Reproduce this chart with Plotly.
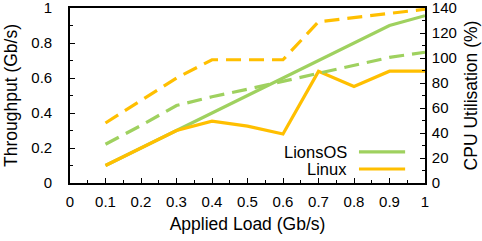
import plotly.graph_objects as go

load = [0.1, 0.2, 0.3, 0.4, 0.5, 0.6, 0.7, 0.8, 0.9, 1.0]
lions_tput = [0.1, 0.2, 0.3, 0.4, 0.5, 0.6, 0.7, 0.8, 0.9, 0.956]
linux_tput = [0.1, 0.2, 0.3, 0.353, 0.325, 0.28, 0.638, 0.552, 0.639, 0.639]
lions_cpu = [31, 46, 62, 69, 75, 81.5, 87.5, 94, 100.5, 104.6]
linux_cpu = [48, 66, 84, 98.6, 98.6, 98.6, 129, 132.5, 136, 139]

x_ticks = [0, 0.1, 0.2, 0.3, 0.4, 0.5, 0.6, 0.7, 0.8, 0.9, 1]
x_ticktext = ["0", "0.1", "0.2", "0.3", "0.4", "0.5", "0.6", "0.7", "0.8", "0.9", "1"]
y_ticks = [0, 0.2, 0.4, 0.6, 0.8, 1]
y_ticktext = ["0", "0.2", "0.4", "0.6", "0.8", "1"]
y2_ticks = [0, 20, 40, 60, 80, 100, 120, 140]

GREEN = "#9fd15f"
YELLOW = "#ffbf00"
FONT = "Liberation Sans, Arial, sans-serif"

fig = go.Figure()
fig.add_trace(go.Scatter(x=load, y=lions_cpu, mode="lines", yaxis="y2",
                         line=dict(color=GREEN, width=3.2, dash="15px,8px"), showlegend=False))
fig.add_trace(go.Scatter(x=load, y=linux_cpu, mode="lines", yaxis="y2",
                         line=dict(color=YELLOW, width=3.2, dash="15px,8px"), showlegend=False))
fig.add_trace(go.Scatter(x=load, y=lions_tput, mode="lines",
                         line=dict(color=GREEN, width=3.2), showlegend=False))
fig.add_trace(go.Scatter(x=load, y=linux_tput, mode="lines",
                         line=dict(color=YELLOW, width=3.2), showlegend=False))

axis_common = dict(showgrid=False, zeroline=False, showline=True, linecolor="black",
                   linewidth=1.6, ticks="inside", tickcolor="black", tickwidth=1.2,
                   automargin=True, ticklabeloverflow="allow",
                   tickfont=dict(size=15, color="black", family=FONT))

fig.update_layout(
    width=482, height=241,
    margin=dict(l=70, r=57, t=8, b=58, autoexpand=False),
    paper_bgcolor="white", plot_bgcolor="white",
    font=dict(family=FONT, color="black", size=15),
    xaxis=dict(range=[0, 1], tickvals=x_ticks, ticktext=x_ticktext, ticklen=5,
               minor=dict(dtick=0.05, tick0=0, ticklen=3, ticks="inside", tickcolor="black"),
               mirror=True, ticklabelstandoff=4,
               title=dict(text="Applied Load (Gb/s)", font=dict(size=17.5), standoff=9),
               **axis_common),
    yaxis=dict(range=[0, 1], tickvals=y_ticks, ticktext=y_ticktext, ticklen=5,
               minor=dict(dtick=0.1, tick0=0, ticklen=3, ticks="inside", tickcolor="black"),
               ticklabelstandoff=13,
               title=dict(text="Throughput (Gb/s)", font=dict(size=17.5), standoff=9),
               **axis_common),
    yaxis2=dict(range=[0, 140], tickvals=y2_ticks, ticklen=5, overlaying="y", side="right",
                minor=dict(dtick=10, tick0=0, ticklen=3, ticks="inside", tickcolor="black"),
                ticklabelstandoff=2,
                title=dict(text="CPU Utilisation (%)", font=dict(size=17.5), standoff=9),
                **axis_common),
)

# legend (text on left, sample line on right, like the reference)
legend_items = [("LionsOS", GREEN, 0.178), ("Linux", YELLOW, 0.08)]
for name, color, ypos in legend_items:
    fig.add_annotation(x=0.786, y=ypos, xref="paper", yref="paper", text=name,
                       showarrow=False, xanchor="right", yanchor="middle",
                       font=dict(size=16.5, color="black", family=FONT))
    fig.add_shape(type="line", xref="paper", yref="paper", x0=0.814, x1=0.944,
                  y0=ypos, y1=ypos, line=dict(color=color, width=3.2))

fig.write_html("out.html", config={"displayModeBar": False},
               post_script="document.body.style.margin='0';")
